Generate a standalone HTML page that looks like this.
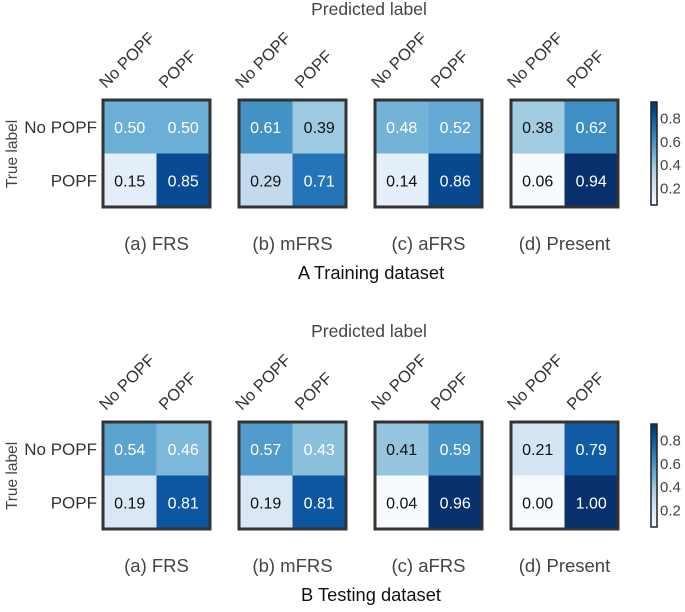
<!DOCTYPE html>
<html><head><meta charset="utf-8"><style>
body{margin:0;background:#fff;}
svg text{font-family:"Liberation Sans",sans-serif;}
</style></head><body>
<svg id="chart" width="685" height="607" xmlns="http://www.w3.org/2000/svg">
<defs>
<linearGradient id="cbar" x1="0" y1="1" x2="0" y2="0">
<stop offset="0" stop-color="#f7fbff"/><stop offset="0.125" stop-color="#deebf7"/><stop offset="0.25" stop-color="#c6dbef"/><stop offset="0.375" stop-color="#9ecae1"/><stop offset="0.5" stop-color="#6baed6"/><stop offset="0.625" stop-color="#4292c6"/><stop offset="0.75" stop-color="#2171b5"/><stop offset="0.875" stop-color="#08519c"/><stop offset="1" stop-color="#08306b"/>
</linearGradient>
</defs>
</svg>
<script>
const panelNames = ["(a) FRS","(b) mFRS","(c) aFRS","(d) Present"];
const classLabels = ["No POPF","POPF"];
const trainValues = [[0.50,0.50,0.15,0.85],[0.61,0.39,0.29,0.71],[0.48,0.52,0.14,0.86],[0.38,0.62,0.06,0.94]];
const testValues = [[0.54,0.46,0.19,0.81],[0.57,0.43,0.19,0.81],[0.41,0.59,0.04,0.96],[0.21,0.79,0.00,1.00]];
const sectionTitles = ["A Training dataset","B Testing dataset"];
const cbarTicks = [0.2,0.4,0.6,0.8];

const NS="http://www.w3.org/2000/svg";
const svg=document.getElementById('chart');
const stops=["#f7fbff","#deebf7","#c6dbef","#9ecae1","#6baed6","#4292c6","#2171b5","#08519c","#08306b"];
function hex(c){return [1,3,5].map(i=>parseInt(c.substr(i,2),16));}
function colorFor(v){
  let t=(v-0.06)/0.88; t=Math.max(0,Math.min(1,t));
  const p=t*8, i=Math.min(7,Math.floor(p)), f=p-i;
  const a=hex(stops[i]), b=hex(stops[i+1]);
  return "rgb("+a.map((x,k)=>Math.round(x+(b[k]-x)*f)).join(",")+")";
}
function el(tag,attrs,text){const e=document.createElementNS(NS,tag);for(const k in attrs)e.setAttribute(k,attrs[k]);if(text!==undefined)e.textContent=text;svg.appendChild(e);return e;}
const panelX=[103,239,375,511], cell=53.5;
const cbTop=102,cbBot=205;
function cbY(v){return cbBot-(v-0.06)/0.88*(cbBot-cbTop);}

[trainValues,testValues].forEach((data,s)=>{
  const oy=s*322, top=100+oy;
  let t=el('text',{x:369,y:15+oy,'text-anchor':'middle','font-size':17.5,fill:'#444'},'Predicted label');
  
  
  t=el('text',{x:0,y:0,'text-anchor':'middle','font-size':15.5,fill:'#444',transform:`translate(17,${top+54}) rotate(-90)`},'True label');
  
  
  classLabels.forEach((lab,r)=>{
    t=el('text',{x:97,y:top+cell*r+cell/2+6,'text-anchor':'end','font-size':17,fill:'#333'},lab);
    
    
  });
  data.forEach((vals,p)=>{
    const x0=panelX[p];
    classLabels.forEach((lab,c)=>{
      const sx = c===0 ? x0+3 : x0+cell+9;
      t=el('text',{x:0,y:0,'text-anchor':'start','font-size':16.5,fill:'#333',transform:`translate(${sx},${top-11}) rotate(-45)`},lab);
      
      
    });
    vals.forEach((v,i)=>{
      const r=Math.floor(i/2), c=i%2;
      const rc=el('rect',{x:x0+c*cell,y:top+r*cell,width:cell,height:cell,fill:colorFor(v)});
      
      
      const tx=el('text',{x:x0+c*cell+cell/2,y:top+r*cell+cell/2+6,'text-anchor':'middle','font-size':16,fill:v>=0.42?'#fff':'#111'},v.toFixed(2));
      
      
    });
    const fr=el('rect',{x:x0,y:top,width:cell*2,height:cell*2,fill:'none',stroke:'#333','stroke-width':3});
    
    
    t=el('text',{x:x0+cell,y:250+oy,'text-anchor':'middle','font-size':18.5,fill:'#444'},panelNames[p]);
    
    
  });
  t=el('text',{x:371,y:279+oy,'text-anchor':'middle','font-size':18.3,fill:'#111'},sectionTitles[s]);
  
  
  const cb=el('rect',{x:651,y:cbTop+oy,width:6,height:cbBot-cbTop,fill:'url(#cbar)',stroke:'#222','stroke-width':1.5});
  
  
  cbarTicks.forEach(v=>{
    const tk=el('text',{x:660,y:cbY(v)+oy+5,'font-size':15,fill:'#444','font-family':'Liberation Serif, serif'},v.toFixed(1));
    
    
  });
});
</script>
</body></html>
